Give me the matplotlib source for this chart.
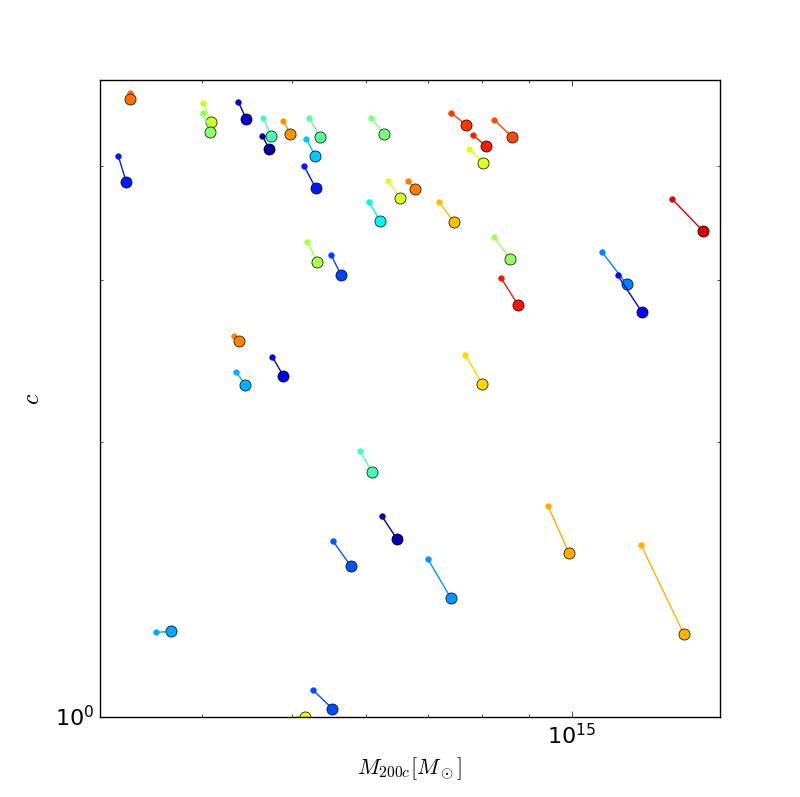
import numpy as np
import matplotlib
matplotlib.use("Agg")
import matplotlib.pyplot as plt
from matplotlib.ticker import NullFormatter

plt.style.use("classic")

# masses in units of 1e14 Msun: start point (small dot) and end point (big dot)
m_start = [3.35, 3.252, 4.013, 4.013, 4.377, 4.657, 4.645, 4.893, 5.218, 5.180,
           5.155, 6.084, 7.416, 8.251, 7.820, 7.755, 6.346, 6.657, 6.053, 7.199,
           8.251, 5.193, 5.511, 8.395, 4.335, 4.761, 4.355, 7.678, 12.82, 10.78,
           11.20, 5.916, 6.250, 5.536, 7.001, 9.428, 11.87, 3.574, 5.261, 5.075]
m_end = [3.35, 3.317, 4.094, 4.084, 4.465, 4.750, 4.726, 4.979, 5.358, 5.297,
         5.302, 6.283, 7.696, 8.627, 8.087, 8.028, 6.537, 6.784, 6.221, 7.471,
         8.585, 5.322, 5.648, 8.757, 4.388, 4.893, 4.454, 8.008, 13.84, 11.45,
         11.90, 6.099, 6.486, 5.786, 7.411, 9.93, 13.20, 3.706, 5.526, 5.16]
c_start = [4.809, 4.102, 4.689, 4.572, 4.701, 4.515, 4.318, 4.483, 4.515, 4.282,
           3.996, 4.515, 4.572, 4.492, 4.325, 4.175, 3.851, 3.851, 3.652, 3.652,
           3.344, 3.307, 3.196, 3.016, 2.612, 2.477, 2.383, 2.490, 3.680, 3.220,
           3.039, 1.954, 1.657, 1.557, 1.488, 1.701, 1.542, 1.238, 1.072, 0.997]
c_end = [4.737, 3.842, 4.469, 4.358, 4.503, 4.314, 4.175, 4.336, 4.303, 4.102,
         3.784, 4.336, 4.436, 4.303, 4.207, 4.031, 3.692, 3.777, 3.481, 3.473,
         3.164, 3.145, 3.039, 2.818, 2.573, 2.361, 2.308, 2.314, 3.395, 2.973,
         2.768, 1.852, 1.565, 1.462, 1.349, 1.511, 1.232, 1.241, 1.022, 1.001]
# colour value along the jet colormap for each halo
cval = [0.79, 0.15, 0.60, 0.52, 0.07, 0.44, 0.03, 0.75, 0.46, 0.32,
        0.15, 0.50, 0.85, 0.83, 0.88, 0.62, 0.61, 0.78, 0.36, 0.71,
        0.53, 0.56, 0.19, 0.89, 0.77, 0.09, 0.30, 0.68, 0.92, 0.25,
        0.13, 0.43, 0.04, 0.21, 0.27, 0.73, 0.72, 0.29, 0.20, 0.65]

cmap = plt.get_cmap("jet")

fig = plt.figure(figsize=(8, 7.97), dpi=100)
ax = fig.add_subplot(111)

for i in range(len(m_start)):
    col = cmap(cval[i])
    xs = [m_start[i] * 1e14, m_end[i] * 1e14]
    ys = [c_start[i], c_end[i]]
    ax.plot(xs, ys, "-", color=col, lw=1)
    ax.plot(xs[0], ys[0], "o", color=col, mec=col, ms=4)
    ax.plot(xs[1], ys[1], "o", color=col, mec="k", mew=0.5, ms=8)

ax.set_xscale("log")
ax.set_yscale("log")
ax.set_xlim(3.108e14, 1.443e15)
ax.set_ylim(1.0, 4.97)
ax.xaxis.set_minor_formatter(NullFormatter())
ax.yaxis.set_minor_formatter(NullFormatter())
ax.tick_params(labelsize=16)

ax.set_xlabel(r"$M_{200c}[M_\odot]$", fontsize=16)
ax.set_ylabel(r"$c$", fontsize=17, labelpad=8)

fig.savefig("out.png", dpi=100)
